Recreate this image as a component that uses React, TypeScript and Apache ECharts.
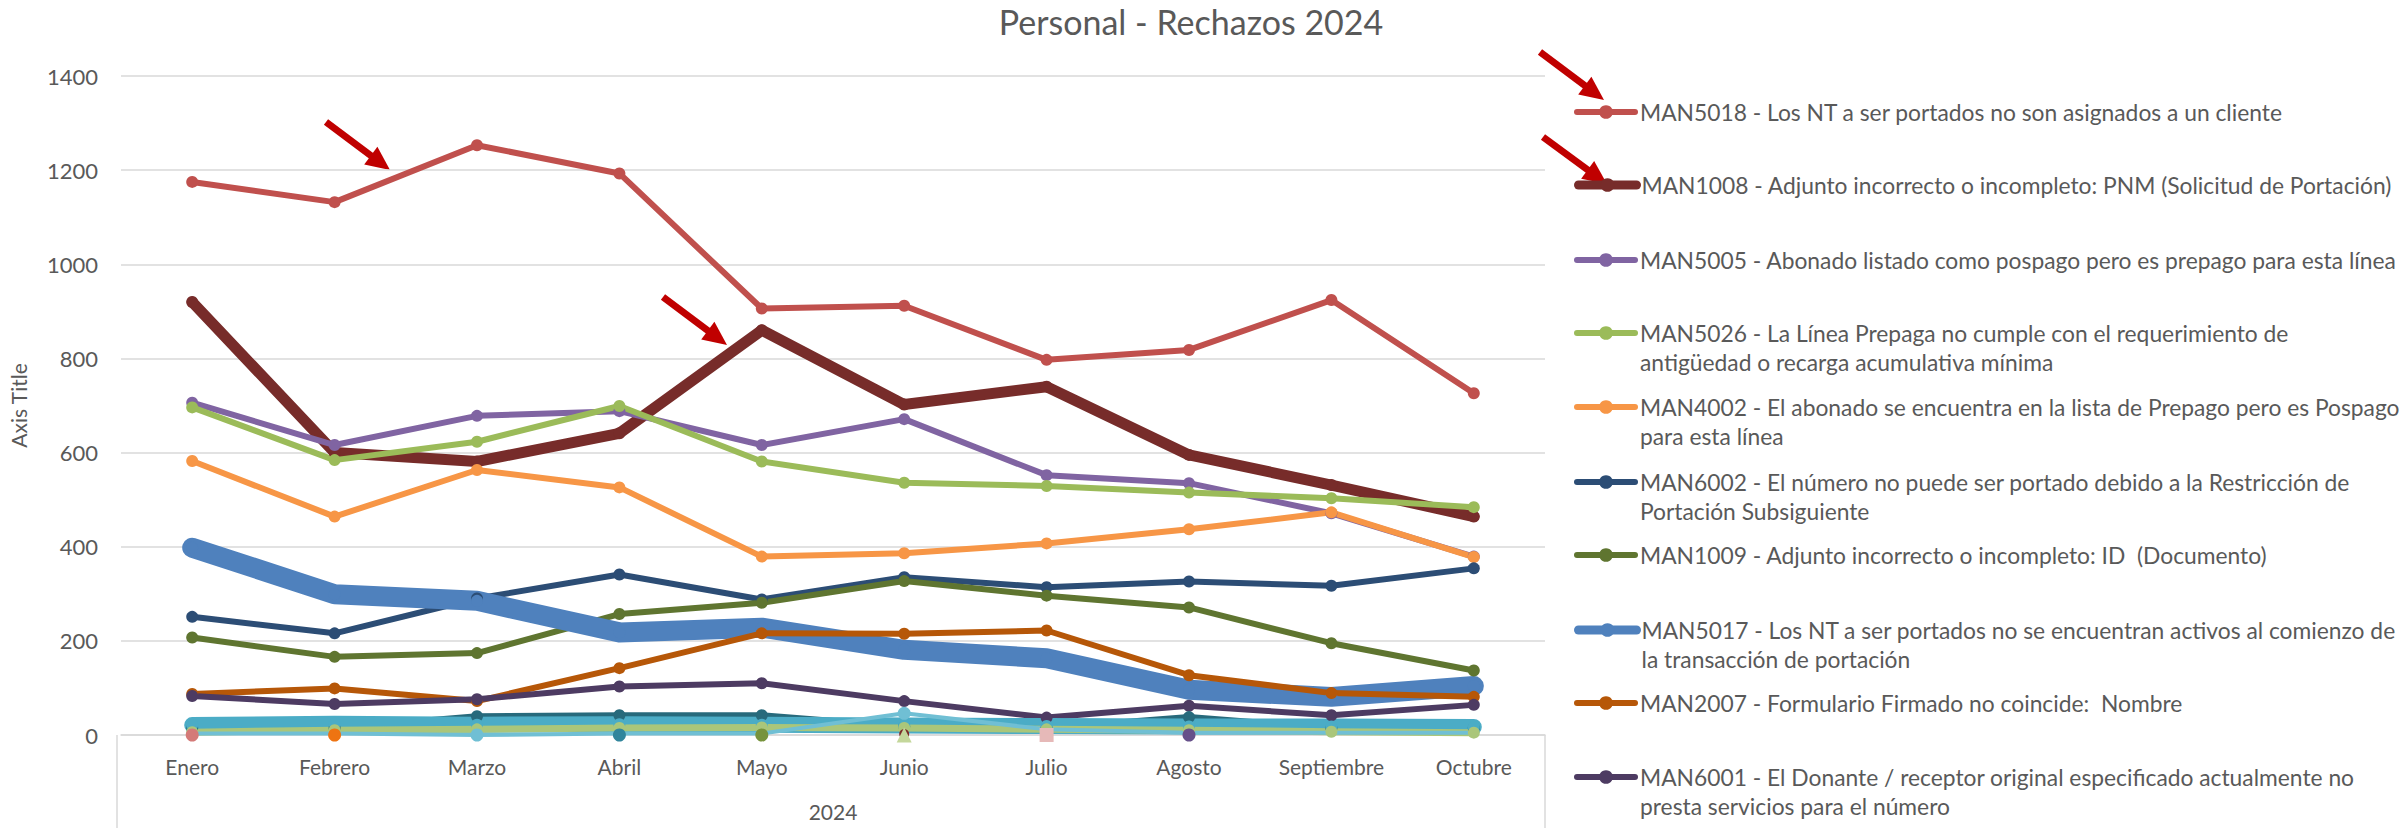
import React, { useEffect, useRef } from "react";
import * as echarts from "echarts";

// ---------- data ----------
const months = ["Enero", "Febrero", "Marzo", "Abril", "Mayo", "Junio", "Julio", "Agosto", "Septiembre", "Octubre"];

const name5018 = "MAN5018 - Los NT a ser portados no son asignados a un cliente";
const name1008 = "MAN1008 - Adjunto incorrecto o incompleto: PNM (Solicitud de Portación)";
const name5005 = "MAN5005 - Abonado listado como pospago pero es prepago para esta línea";
const name5026 = "MAN5026 - La Línea Prepaga no cumple con el requerimiento de antigüedad o recarga acumulativa mínima";
const name4002 = "MAN4002 - El abonado se encuentra en la lista de Prepago pero es Pospago para esta línea";
const name6002 = "MAN6002 - El número no puede ser portado debido a la Restricción de Portación Subsiguiente";
const name1009 = "MAN1009 - Adjunto incorrecto o incompleto: ID  (Documento)";
const name5017 = "MAN5017 - Los NT a ser portados no se encuentran activos al comienzo de la transacción de portación";
const name2007 = "MAN2007 - Formulario Firmado no coincide:  Nombre";
const name6001 = "MAN6001 - El Donante / receptor original especificado actualmente no presta servicios para el número";

// legend text as wrapped in the reference
const legendLines: string[][] = [
  ["MAN5018 - Los NT a ser portados no son asignados a un cliente"],
  ["MAN1008 - Adjunto incorrecto o incompleto: PNM (Solicitud de Portación)"],
  ["MAN5005 - Abonado listado como pospago pero es prepago para esta línea"],
  ["MAN5026 - La Línea Prepaga no cumple con el requerimiento de", "antigüedad o recarga acumulativa mínima"],
  ["MAN4002 - El abonado se encuentra en la lista de Prepago pero es Pospago", "para esta línea"],
  ["MAN6002 - El número no puede ser portado debido a la Restricción de", "Portación Subsiguiente"],
  ["MAN1009 - Adjunto incorrecto o incompleto: ID  (Documento)"],
  ["MAN5017 - Los NT a ser portados no se encuentran activos al comienzo de", "la transacción de portación"],
  ["MAN2007 - Formulario Firmado no coincide:  Nombre"],
  ["MAN6001 - El Donante / receptor original especificado actualmente no", "presta servicios para el número"],
];

const man5018 = [1175, 1132, 1253, 1193, 906, 912, 797, 818, 924, 726];
const man1008 = [920, 600, 581, 641, 860, 702, 740, 595, 531, 464];
const man5005 = [706, 616, 678, 688, 616, 671, 552, 535, 471, 379];
const man5026 = [696, 584, 623, 699, 581, 536, 529, 515, 503, 484];
const man4002 = [582, 464, 563, 526, 379, 386, 407, 437, 473, 378];
const man6002 = [251, 216, 290, 341, 288, 335, 314, 326, 317, 354];
const man1009 = [207, 166, 174, 257, 281, 327, 296, 271, 195, 137];
const man5017 = [398, 299, 285, 218, 228, 181, 163, 96, 81, 104];
const man2007 = [87, 99, 72, 142, 216, 215, 222, 127, 89, 81];
const man6001 = [83, 66, 76, 103, 110, 72, 37, 62, 42, 64];

// further series whose legend entries are cut off in the reference
const extraDarkTeal = [15, 15, 40, 42, 42, 18, 15, 38, 15, 15];
const extraTeal = [21, 24, 22, 23, 22, 20, 19, 18, 18, 17];
const extraLightGreen = [6, 10, 12, 15, 16, 15, 12, 10, 7, 5];
const extraLightBlue = [3, 3, 0, 3, 3, 46, 12, 5, 5, 5];
const extraLightBlueMarks = [null, null, 0, null, null, 46, null, null, null, null];
const extraPinkMark = [0, null, null, null, null, null, null, null, null, null];
const extraOrangeMark = [null, 0, null, null, null, null, null, null, null, null];
const extraTealMark = [null, null, null, 0, null, null, null, null, null, null];
const extraOliveMark = [null, null, null, null, 0, null, null, null, null, null];
const extraDarkRedMark = [null, null, null, null, null, 2, null, null, null, null];
const extraTriangleMark = [null, null, null, null, null, 0, null, null, null, null];
const extraSquareMark = [null, null, null, null, null, null, 0, null, null, null];
const extraPurpleMark = [null, null, null, null, null, null, null, 0, null, null];

const yMin = 0;
const yMax = 1400;
const yStep = 200;

// ---------- styling ----------
const FONT = "Lato, 'Liberation Sans', sans-serif";
const TEXT = "#595959";
const GRIDC = "#D9D9D9";
const ARROW = "#C00000";

const W = 2407;
const H = 828;
const G = { left: 117, right: 862, top: 76, bottom: 93 };

function line(name: string, data: (number | null)[], color: string, width: number, symbolSize = 12, symbol = "circle") {
  return {
    type: "line",
    name,
    data,
    symbol,
    symbolSize,
    showSymbol: true,
    showAllSymbol: true,
    color,
    itemStyle: { color, borderWidth: 0 },
    lineStyle: { color, width, cap: "round", join: "round" },
    emphasis: { disabled: true },
    silent: true,
  };
}

function marks(name: string, data: (number | null)[], color: string, symbolSize = 13, symbol = "circle") {
  return {
    type: "line",
    name,
    data,
    symbol,
    symbolSize,
    showSymbol: true,
    showAllSymbol: true,
    color,
    itemStyle: { color, borderWidth: 0 },
    lineStyle: { width: 0 },
    emphasis: { disabled: true },
    silent: true,
  };
}

function arrow(tail: [number, number], tip: [number, number]) {
  const dx = tip[0] - tail[0];
  const dy = tip[1] - tail[1];
  const len = Math.sqrt(dx * dx + dy * dy);
  const ux = dx / len;
  const uy = dy / len;
  const headLen = 24;
  const headW = 22;
  const bx = tip[0] - ux * headLen;
  const by = tip[1] - uy * headLen;
  const px = -uy;
  const py = ux;
  return [
    {
      type: "line",
      silent: true,
      shape: { x1: tail[0], y1: tail[1], x2: bx + ux * 2, y2: by + uy * 2 },
      style: { stroke: ARROW, lineWidth: 7 },
    },
    {
      type: "polygon",
      silent: true,
      shape: {
        points: [
          [tip[0], tip[1]],
          [bx + (px * headW) / 2, by + (py * headW) / 2],
          [bx - (px * headW) / 2, by - (py * headW) / 2],
        ],
      },
      style: { fill: ARROW },
    },
  ];
}

export default function App() {
  const ref = useRef<HTMLDivElement>(null);

  useEffect(() => {
    if (!ref.current) return;
    const chart = echarts.init(ref.current, null, { renderer: "svg" });

    const mainNames = [name5018, name1008, name5005, name5026, name4002, name6002, name1009, name5017, name2007, name6001];
    const legendCenters = [112, 185, 260, 333, 407, 482, 555, 630, 703, 777];
    const legendLineW = [6, 9, 6, 6, 6, 6, 6, 9, 6, 6];
    const LH = 29;

    const legends = mainNames.map((nm, i) => {
      const lines = legendLines[i];
      const txt = lines.length > 1 ? "\n" + lines.join("\n") : lines[0];
      const nLines = lines.length > 1 ? 3 : 1;
      return {
        show: true,
        data: [nm],
        orient: "vertical",
        left: 1574,
        top: legendCenters[i] - (nLines * LH) / 2,
        padding: 0,
        itemWidth: 58,
        itemHeight: 17,
        selectedMode: false,
        formatter: () => txt,
        textStyle: { fontFamily: FONT, fontSize: 22.8, color: TEXT, lineHeight: LH },
        lineStyle: { width: legendLineW[i] },
      };
    });

    const series = [
      line(name5018, man5018, "#C0504D", 6),
      line(name1008, man1008, "#772C2A", 11),
      line(name5005, man5005, "#8064A2", 6),
      line(name5026, man5026, "#9BBB59", 6),
      line(name4002, man4002, "#F79646", 6),
      line(name6002, man6002, "#2C4D75", 6),
      line(name1009, man1009, "#5F7530", 6),
      line(name5017, man5017, "#4F81BD", 20),
      line(name2007, man2007, "#B65708", 6),
      line(name6001, man6001, "#4D3B62", 6),
      line("Extra 1", extraDarkTeal, "#276A7C", 6),
      line("Extra 2", extraTeal, "#4BACC6", 16),
      line("Extra 3", extraLightGreen, "#AAC67A", 7),
      { ...line("Extra 4", extraLightBlue, "#70BFD4", 4), symbol: "none" },
      marks("Extra 5", extraLightBlueMarks, "#70BFD4"),
      marks("Extra 6", extraPinkMark, "#D47A78"),
      marks("Extra 7", extraOrangeMark, "#EE7412"),
      marks("Extra 8", extraTealMark, "#31859C"),
      marks("Extra 9", extraOliveMark, "#77933C"),
      marks("Extra 10", extraDarkRedMark, "#7B2C2A", 10),
      marks("Extra 11", extraTriangleMark, "#C4D79B", 15, "triangle"),
      marks("Extra 12", extraSquareMark, "#E6B9B8", 14, "rect"),
      marks("Extra 13", extraPurpleMark, "#66508A"),
    ];

    const plotBottom = H - G.bottom;
    const plotRight = W - G.right;

    chart.setOption({
      animation: false,
      backgroundColor: "#FFFFFF",
      textStyle: { fontFamily: FONT },
      title: {
        text: "Personal - Rechazos 2024",
        left: 1191,
        top: 4,
        padding: 0,
        textAlign: "center",
        textStyle: { fontFamily: FONT, fontSize: 34, fontWeight: "normal", color: TEXT },
      },
      legend: legends,
      grid: { left: G.left, right: G.right, top: G.top, bottom: G.bottom, containLabel: false },
      xAxis: {
        type: "category",
        data: months,
        boundaryGap: true,
        axisLine: { show: true, lineStyle: { color: GRIDC, width: 1.5 } },
        axisTick: { show: false },
        axisLabel: { fontFamily: FONT, fontSize: 21, color: TEXT, margin: 21 },
        name: "2024",
        nameLocation: "middle",
        nameGap: 66,
        nameTextStyle: { fontFamily: FONT, fontSize: 21, color: TEXT },
      },
      yAxis: {
        type: "value",
        min: yMin,
        max: yMax,
        interval: yStep,
        axisLine: { show: false },
        axisTick: { show: false },
        splitLine: { lineStyle: { color: GRIDC, width: 1.5 } },
        axisLabel: {
          fontFamily: FONT,
          fontSize: 22,
          color: TEXT,
          margin: 23,
          formatter: (v: number) => String(v),
        },
        name: "Axis Title",
        nameLocation: "middle",
        nameGap: 92,
        nameRotate: 90,
        nameTextStyle: { fontFamily: FONT, fontSize: 21, color: TEXT },
      },
      graphic: [
        {
          type: "line",
          silent: true,
          shape: { x1: G.left, y1: plotBottom, x2: G.left, y2: H },
          style: { stroke: GRIDC, lineWidth: 1.5 },
        },
        {
          type: "line",
          silent: true,
          shape: { x1: plotRight, y1: plotBottom, x2: plotRight, y2: H },
          style: { stroke: GRIDC, lineWidth: 1.5 },
        },
        ...arrow([326, 122], [390, 170]),
        ...arrow([663, 297], [727, 345]),
        ...arrow([1540, 52], [1604, 100]),
        ...arrow([1543, 137], [1607, 184]),
      ],
      series,
    });

    return () => chart.dispose();
  }, []);

  return (
    <div
      ref={ref}
      style={{ position: "fixed", left: 0, top: 0, width: W, height: H, background: "#fff" }}
    />
  );
}
